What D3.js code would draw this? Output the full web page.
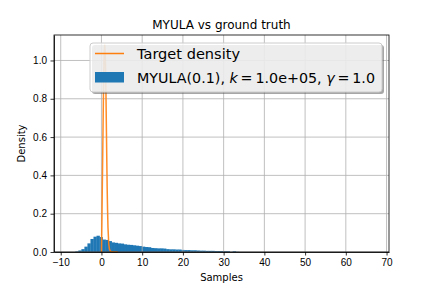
<!DOCTYPE html>
<html>
<head>
<meta charset="utf-8">
<script src="https://cdn.jsdelivr.net/npm/d3@7"></script>
<style>
  body { margin: 0; background: #fff; }
  svg { font-family: "DejaVu Sans", sans-serif; }
  .axis path, .axis line { stroke: #000; stroke-width: 0.8; }
  .axis text { font-size: 10px; fill: #000; }
</style>
</head>
<body>
<svg id="chart" width="432" height="288"></svg>
<script>
// histogram: 100 bins from binStart with width binWidth (density)
const binStart = -7.9;
const binWidth = 0.743;
const binHeights = [
  0, 0, 0.003, 0.008, 0.015, 0.028, 0.045, 0.068, 0.080, 0.085,
  0.078, 0.065, 0.063, 0.057, 0.050, 0.048, 0.045, 0.044, 0.040, 0.038,
  0.037, 0.035, 0.033, 0.031, 0.028, 0.026, 0.025, 0.021, 0.020, 0.019,
  0.019, 0.018, 0.015, 0.014, 0.014, 0.013, 0.013, 0.011, 0.010, 0.010,
  0.009, 0.009, 0.008, 0.007, 0.007, 0.006, 0.006, 0.006, 0.005, 0.005,
  0.005, 0.004, 0.004, 0.0005, 0.004, 0.001
];

// target density curve
const targetX = [0.0, 0.1, 0.2, 0.3, 0.4, 0.5, 0.6, 0.7, 0.8, 0.9, 1.0, 1.1, 1.2, 1.3, 1.4, 1.5, 1.6, 1.8, 2.0, 2.2, 2.5, 3.0, 3.5, 4.0];
const targetY = [0.0, 0.14, 0.32, 0.49, 0.67, 0.84, 0.97, 1.05, 1.08, 1.05, 0.97, 0.84, 0.67, 0.50, 0.34, 0.22, 0.13, 0.04, 0.012, 0.004, 0.001, 0, 0, 0];

const xTicks = [-10, 0, 10, 20, 30, 40, 50, 60, 70];
const yTicks = [0.0, 0.2, 0.4, 0.6, 0.8, 1.0];

const svg = d3.select("#chart");
const margin = { top: 35, right: 43, bottom: 36, left: 54 };
const w = 432 - margin.left - margin.right;
const h = 288 - margin.top - margin.bottom;

const g = svg.append("g").attr("transform", `translate(${margin.left},${margin.top})`);

const x = d3.scaleLinear().domain([-11.65, 70.6]).range([0, w]);
const y = d3.scaleLinear().domain([0, 1.133]).range([h, 0]);

// histogram bars
const bins = binHeights.map((v, i) => ({ x0: binStart + i * binWidth, x1: binStart + (i + 1) * binWidth, v }))
  .filter(d => d.v > 0);
g.append("g").selectAll("rect")
  .data(bins)
  .join("rect")
  .attr("x", d => x(d.x0))
  .attr("width", d => x(d.x1) - x(d.x0) + 0.3)
  .attr("y", d => y(d.v))
  .attr("height", d => y(0) - y(d.v))
  .attr("fill", "#1f77b4");

// grid (above patches, below lines)
const grid = g.append("g").attr("stroke", "#b0b0b0").attr("stroke-width", 0.8);
grid.selectAll("line.gx").data(xTicks).join("line")
  .attr("x1", d => x(d)).attr("x2", d => x(d)).attr("y1", 0).attr("y2", h);
grid.selectAll("line.gy").data(yTicks).join("line")
  .attr("y1", d => y(d)).attr("y2", d => y(d)).attr("x1", 0).attr("x2", w);

// target density line
const pts = targetX.map((v, i) => [v, targetY[i]]);
g.append("path")
  .datum(pts)
  .attr("fill", "none")
  .attr("stroke", "#ff7f0e")
  .attr("stroke-width", 1.5)
  .attr("stroke-opacity", 0.9)
  .attr("stroke-linejoin", "round")
  .attr("d", d3.line().x(d => x(d[0])).y(d => y(d[1])));

// axes
const fmtX = d => (d < 0 ? "\u2212" + Math.abs(d) : String(d));
g.append("g").attr("class", "axis").attr("transform", `translate(0,${h})`)
  .call(d3.axisBottom(x).tickValues(xTicks).tickFormat(fmtX).tickSizeInner(3.5).tickSizeOuter(0).tickPadding(3.5));
g.append("g").attr("class", "axis")
  .call(d3.axisLeft(y).tickValues(yTicks).tickFormat(d3.format(".1f")).tickSizeInner(3.5).tickSizeOuter(0).tickPadding(3.5));

// frame
g.append("rect").attr("width", w).attr("height", h)
  .attr("fill", "none").attr("stroke", "#000").attr("stroke-width", 0.8);

// title and labels
svg.append("text").attr("x", margin.left + w / 2).attr("y", 29)
  .attr("text-anchor", "middle").attr("font-size", 12).text("MYULA vs ground truth");
svg.append("text").attr("x", margin.left + w / 2).attr("y", 281)
  .attr("text-anchor", "middle").attr("font-size", 10).text("Samples");
svg.append("text").attr("transform", `translate(25,${margin.top + h / 2}) rotate(-90)`)
  .attr("text-anchor", "middle").attr("font-size", 10).text("Density");

// legend
const leg = svg.append("g");
const lx = 90, ly = 43, lw = 292, lh = 49;
leg.append("rect").attr("x", lx + 2).attr("y", ly + 2).attr("width", lw).attr("height", lh)
  .attr("rx", 3).attr("fill", "#4d4d4d").attr("opacity", 0.5);
leg.append("rect").attr("x", lx).attr("y", ly).attr("width", lw).attr("height", lh)
  .attr("rx", 3).attr("fill", "#fff").attr("fill-opacity", 0.8).attr("stroke", "#cccccc").attr("stroke-width", 1);
leg.append("line").attr("x1", 95).attr("x2", 124).attr("y1", 53.5).attr("y2", 53.5)
  .attr("stroke", "#ff7f0e").attr("stroke-width", 1.5);
leg.append("rect").attr("x", 95).attr("y", 72).attr("width", 29).attr("height", 10.5).attr("fill", "#1f77b4");
leg.append("text").attr("x", 137).attr("y", 59).attr("font-size", 14.4)
  .attr("textLength", 103).attr("lengthAdjust", "spacingAndGlyphs").text("Target density");
const t2 = leg.append("text").attr("x", 137).attr("y", 82.5).attr("font-size", 14.4)
  .attr("textLength", 238).attr("lengthAdjust", "spacingAndGlyphs");
t2.append("tspan").text("MYULA(0.1), ");
t2.append("tspan").attr("font-style", "italic").text("k");
t2.append("tspan").text("\u2009=\u20091.0e+05, ");
t2.append("tspan").attr("font-style", "italic").text("\u03b3");
t2.append("tspan").text("\u2009=\u20091.0");
</script>
</body>
</html>
